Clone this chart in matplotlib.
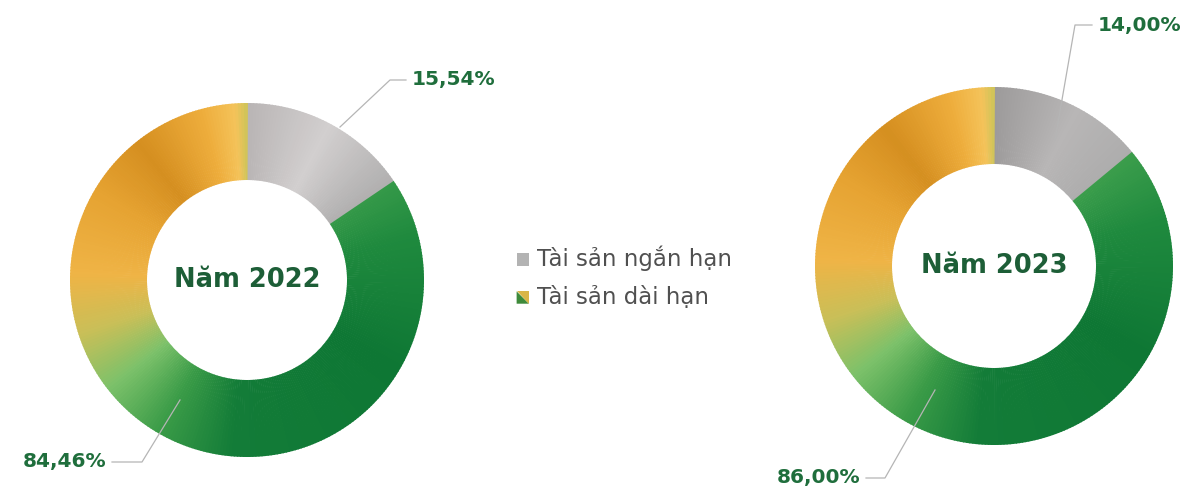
import numpy as np
import matplotlib.pyplot as plt
from matplotlib.patches import Wedge, Polygon, Patch
from matplotlib.legend_handler import HandlerPatch
from matplotlib.colors import to_rgb

plt.rcParams['font.family'] = ['DejaVu Sans']

# Cơ cấu tài sản (%)
years = ["Năm 2022", "Năm 2023"]
short_term = [15.54, 14.00]
long_term = [84.46, 86.00]
series_names = ["Tài sản ngắn hạn", "Tài sản dài hạn"]

W, H = 1198, 493
fig = plt.figure(figsize=(W / 100, H / 100), dpi=100)
ax = fig.add_axes([0, 0, 1, 1])
ax.set_xlim(0, W)
ax.set_ylim(H, 0)
ax.set_aspect('equal')
ax.axis('off')

# màu theo góc (độ, theo chiều kim đồng hồ từ đỉnh)
gray_stops = [0, 28, 60]
gray_cols = [['#b9b5b5', '#d2cfcf', '#acabab'], ['#9c9a9a', '#b8b6b6', '#a9a9a9']]
long_stops = [50, 75, 120, 185, 210, 232, 252, 272, 300, 322, 345, 356, 360]
long_cols = ['#3c9e4c', '#1f8a3e', '#0e7734', '#137c38', '#3a9b47', '#7cc16a',
             '#c9bf58', '#efb446', '#e6a332', '#d58f20', '#eead3c', '#f4c35a', '#cdc459']


def grad(a, stops, cols):
    rgb = np.array([to_rgb(c) for c in cols])
    return tuple(np.interp(a, stops, rgb[:, k]) for k in range(3))


def donut(cx, cy, R, r, parts, gcols):
    start = 0.0
    for i, val in enumerate(parts):
        span = val / 100 * 360
        n = max(int(span), 2)
        edges = np.linspace(start, start + span, n + 1)
        for a0, a1 in zip(edges[:-1], edges[1:]):
            am = (a0 + a1) / 2
            c = grad(am, gray_stops, gcols) if i == 0 else grad(am, long_stops, long_cols)
            # góc toạ độ màn hình (trục y đảo ngược)
            ax.add_patch(Wedge((cx, cy), R, a0 - 90, a1 - 90 + 0.3, width=R - r,
                               facecolor=c, edgecolor='none', lw=0))
        start += span


def leader(p0, p1, p2, text, ha):
    ax.plot([p0[0], p1[0], p2[0]], [p0[1], p1[1], p2[1]], color='#b5b5b5', lw=0.9)
    ax.text(p2[0] + (6 if ha == 'left' else -6), p2[1], text, ha=ha, va='center',
            fontsize=14.5, fontweight='bold', color='#1f6e3c')


centers = [(247, 280), (994, 266)]
radii = [(177, 100), (179, 102)]

for k in range(2):
    cx, cy = centers[k]
    R, r = radii[k]
    donut(cx, cy, R, r, [short_term[k], long_term[k]], gray_cols[k])
    ax.text(cx, cy, years[k], ha='center', va='center', fontsize=18.5,
            fontweight='bold', color='#1d5e37')

fmt = lambda v: f"{v:.2f}".replace('.', ',') + '%'
leader((340, 127), (390, 80), (406, 80), fmt(short_term[0]), 'left')
leader((180, 400), (142, 462), (112, 462), fmt(long_term[0]), 'right')
leader((1055, 140), (1075, 25), (1092, 25), fmt(short_term[1]), 'left')
leader((935, 390), (885, 478), (866, 478), fmt(long_term[1]), 'right')


class HandlerGradient(HandlerPatch):
    def create_artists(self, legend, orig_handle, xdescent, ydescent,
                       width, height, fontsize, trans):
        s = height
        x0 = width - s
        lower = Polygon([[x0, 0], [x0 + s, 0], [x0, s]], closed=True,
                        facecolor='#3e8a3a', edgecolor='none', transform=trans)
        upper = Polygon([[x0 + s, 0], [x0 + s, s], [x0, s]], closed=True,
                        facecolor='#d9b548', edgecolor='none', transform=trans)
        return [lower, upper]


class HandlerSquare(HandlerPatch):
    def create_artists(self, legend, orig_handle, xdescent, ydescent,
                       width, height, fontsize, trans):
        s = height
        sq = Polygon([[width - s, 0], [width, 0], [width, s], [width - s, s]], closed=True,
                     facecolor='#b3b3b3', edgecolor='none', transform=trans)
        return [sq]


h_short = Patch(facecolor='#b3b3b3')
h_long = Patch(facecolor='#3e8a3a')
leg = ax.legend([h_short, h_long], series_names, loc='center left',
                bbox_to_anchor=(498 / W, 1 - 277 / H), frameon=False, fontsize=16.5,
                handlelength=0.45, handleheight=0.45, handletextpad=0.35, labelspacing=0.65,
                handler_map={h_short: HandlerSquare(), h_long: HandlerGradient()})
for t in leg.get_texts():
    t.set_color('#505050')

fig.savefig('out.png', dpi=100)
